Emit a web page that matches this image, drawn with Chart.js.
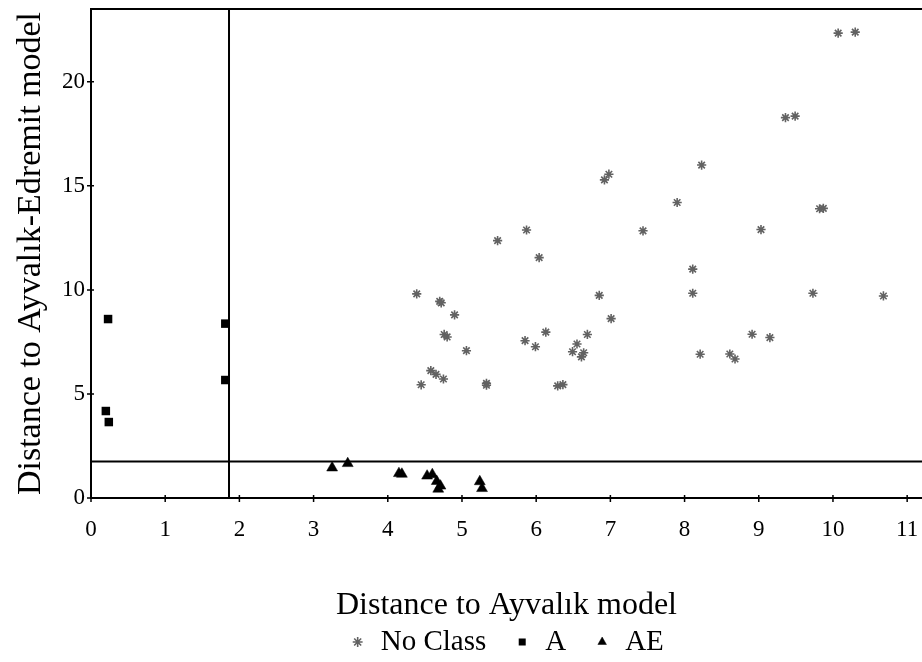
<!DOCTYPE html>
<html lang="en">
<head>
  <meta charset="UTF-8">
  <title>Distance to Ayvalık models</title>
  <script src="https://cdn.jsdelivr.net/npm/chart.js"></script>
  <style>
    body { margin: 0; background: #fff; }
    canvas { display: block; }
  </style>
</head>
<body>
  <canvas id="distChart" width="922" height="662"></canvas>
  <script>
    // samples without class
    const noClassX = [10.07, 10.30, 9.36, 9.49, 8.23, 6.98, 6.92, 7.90, 9.82, 9.87,
                      9.03, 7.44, 5.87, 5.48, 6.04, 8.11, 8.11, 6.85, 9.73, 10.68,
                      4.39, 4.70, 4.72, 4.90, 7.01, 6.13, 8.91, 9.15, 4.76, 4.80,
                      6.69, 5.85, 6.55, 5.99, 5.06, 6.49, 6.64, 6.61, 8.21, 8.61,
                      8.68, 4.58, 4.65, 4.75, 4.45, 5.33, 5.33, 6.29, 6.36];
    const noClassY = [22.34, 22.39, 18.28, 18.35, 16.00, 15.56, 15.29, 14.20, 13.90, 13.92,
                      12.90, 12.84, 12.88, 12.37, 11.55, 11.00, 9.84, 9.74, 9.84, 9.71,
                      9.81, 9.45, 9.38, 8.80, 8.62, 7.97, 7.87, 7.71, 7.86, 7.74,
                      7.86, 7.56, 7.40, 7.27, 7.08, 7.03, 6.98, 6.78, 6.91, 6.92,
                      6.68, 6.12, 5.94, 5.72, 5.44, 5.51, 5.42, 5.39, 5.45];
    // class A
    const classAX = [0.23, 1.81, 1.81, 0.20, 0.24];
    const classAY = [8.60, 8.38, 5.67, 4.18, 3.65];
    // class AE
    const classAEX = [3.25, 3.46, 4.15, 4.19, 4.53, 4.60, 4.66, 4.71, 4.68, 5.24, 5.27];
    const classAEY = [1.45, 1.66, 1.18, 1.15, 1.06, 1.13, 0.80, 0.58, 0.43, 0.79, 0.46];

    // class thresholds
    const cutX = 1.86;
    const cutY = 1.75;

    const xMax = 11.2, yMax = 23.5;
    const xMinorStep = 0.5, yMinorStep = 2.5;
    const xTickLabels = [0, 1, 2, 3, 4, 5, 6, 7, 8, 9, 10, 11];
    const yTickLabels = [0, 5, 10, 15, 20];

    const serif = "'Liberation Serif', 'Times New Roman', serif";
    Chart.defaults.font.family = serif;
    Chart.defaults.color = '#000';

    const toPoints = (xs, ys) => xs.map((x, i) => ({ x: x, y: ys[i] }));
    const onStep = (v, step) => Math.abs(v / step - Math.round(v / step)) < 1e-6;

    // top edge of the frame and the small ticks that cross both axes
    const axisMarks = {
      id: 'axisMarks',
      afterDraw(chart) {
        const { ctx, chartArea: area, scales: { x, y } } = chart;
        ctx.save();
        ctx.strokeStyle = '#000';
        ctx.lineWidth = 2;
        ctx.beginPath();
        ctx.moveTo(area.left - 1, area.top);
        ctx.lineTo(area.right, area.top);
        ctx.stroke();

        ctx.lineWidth = 1.5;
        ctx.beginPath();
        x.ticks.forEach(t => {
          if (!onStep(t.value, xMinorStep)) return;
          const px = x.getPixelForValue(t.value);
          ctx.moveTo(px, area.bottom - 3);
          ctx.lineTo(px, area.bottom + 4);
        });
        y.ticks.forEach(t => {
          if (!onStep(t.value, yMinorStep)) return;
          const py = y.getPixelForValue(t.value);
          ctx.moveTo(area.left - 4, py);
          ctx.lineTo(area.left + 3, py);
        });
        ctx.stroke();
        ctx.restore();
      }
    };

    const chart = new Chart(document.getElementById('distChart'), {
      type: 'scatter',
      data: {
        datasets: [
          {
            label: 'No Class',
            data: toPoints(noClassX, noClassY),
            pointStyle: 'star',
            pointRadius: 4.6,
            borderWidth: 1.6,
            borderColor: '#626262',
            backgroundColor: '#626262'
          },
          {
            label: 'A',
            data: toPoints(classAX, classAY),
            pointStyle: 'rect',
            pointRadius: 6,
            borderWidth: 0,
            borderColor: '#000',
            backgroundColor: '#000'
          },
          {
            label: 'AE',
            data: toPoints(classAEX, classAEY),
            pointStyle: 'triangle',
            pointRadius: 6.3,
            borderWidth: 0.5,
            borderColor: '#000',
            backgroundColor: '#000'
          },
          {
            label: 'cutX',
            data: [{ x: cutX, y: 0 }, { x: cutX, y: yMax }],
            showLine: true,
            pointRadius: 0,
            borderWidth: 2,
            borderColor: '#000',
            order: 10
          },
          {
            label: 'cutY',
            data: [{ x: 0, y: cutY }, { x: xMax, y: cutY }],
            showLine: true,
            pointRadius: 0,
            borderWidth: 2,
            borderColor: '#000',
            order: 10
          }
        ]
      },
      options: {
        responsive: false,
        animation: false,
        devicePixelRatio: 1,
        layout: { autoPadding: false, padding: { top: 9, right: 0, bottom: -4.5, left: 0 } },
        plugins: {
          tooltip: { enabled: false },
          legend: {
            position: 'bottom',
            fullSize: false,
            labels: {
              usePointStyle: true,
              boxWidth: 17,
              boxHeight: 7,
              padding: 27.5,
              color: '#000',
              font: { family: serif, size: 29 },
              filter: item => item.datasetIndex < 3
            }
          }
        },
        scales: {
          x: {
            type: 'linear',
            position: 'bottom',
            min: 0,
            max: xMax,
            afterFit: scale => { scale.height = 102; scale.paddingRight = 0; },
            grid: { display: false, drawTicks: true, tickLength: 18 },
            border: { display: true, color: '#000', width: 2 },
            ticks: {
              stepSize: xMinorStep,
              includeBounds: false,
              autoSkip: false,
              maxRotation: 0,
              padding: 0,
              color: '#000',
              font: { size: 23 },
              callback: v => xTickLabels.includes(v) ? String(v) : null
            },
            title: {
              display: true,
              text: 'Distance to Ayvalık model',
              color: '#000',
              font: { size: 32 },
              padding: { top: 0, bottom: -25.2 }
            }
          },
          y: {
            type: 'linear',
            min: 0,
            max: yMax,
            afterFit: scale => { scale.width = 91; scale.paddingTop = 0; },
            grid: { display: false, drawTicks: false },
            border: { display: true, color: '#000', width: 2 },
            ticks: {
              stepSize: yMinorStep,
              includeBounds: false,
              autoSkip: false,
              padding: 6,
              color: '#000',
              font: { size: 23 },
              callback: v => yTickLabels.includes(v) ? String(v) : null
            },
            title: {
              display: true,
              text: 'Distance to Ayvalık-Edremit model',
              color: '#000',
              font: { size: 34 },
              padding: { top: 11, bottom: 0 }
            }
          }
        }
      },
      plugins: [axisMarks]
    });
  </script>
</body>
</html>
